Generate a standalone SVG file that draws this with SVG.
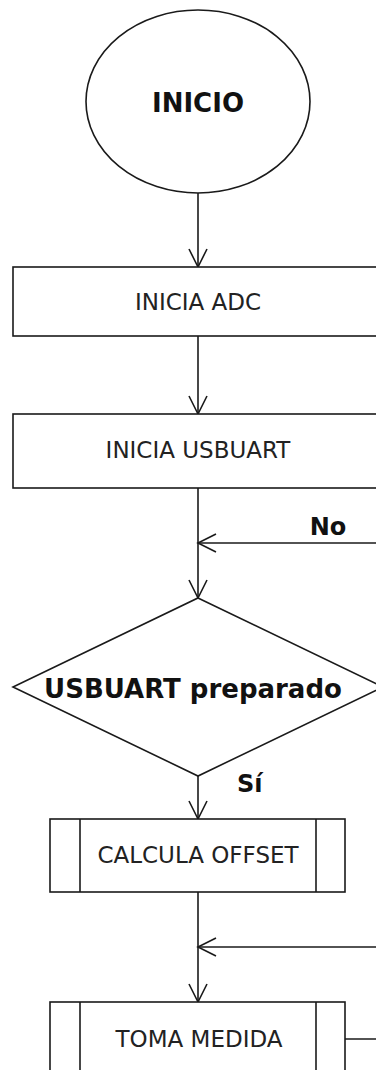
<svg xmlns="http://www.w3.org/2000/svg" width="376" height="1070" viewBox="0 0 376 1070">
<style>
.s{fill:#fff;stroke:#1a1a1a;stroke-width:1.6}
.l{fill:none;stroke:#1a1a1a;stroke-width:1.6}
.t{font-family:"DejaVu Sans",sans-serif;font-size:23px;fill:#222;text-anchor:middle}
.b{font-family:"DejaVu Sans",sans-serif;font-weight:bold;fill:#111}
</style>
<defs>
<marker id="arr" markerUnits="userSpaceOnUse" markerWidth="24" markerHeight="24" viewBox="-20 -12 24 24" refX="0" refY="0" orient="auto" overflow="visible">
<path d="M-18,-9 L0,0 L-18,9" fill="none" stroke="#1a1a1a" stroke-width="1.6"/>
</marker>
</defs>
<rect width="376" height="1070" fill="#fff"/>
<g id="connectors">
<line class="l" x1="198" y1="193" x2="198" y2="267" marker-end="url(#arr)"/>
<line class="l" x1="198" y1="336" x2="198" y2="414" marker-end="url(#arr)"/>
<line class="l" x1="198" y1="488" x2="198" y2="598" marker-end="url(#arr)"/>
<line class="l" x1="380" y1="543" x2="198" y2="543" marker-end="url(#arr)"/>
<text class="b" x="328" y="535" font-size="24" text-anchor="middle">No</text>
<line class="l" x1="198" y1="776" x2="198" y2="819" marker-end="url(#arr)"/>
<text class="b" x="237" y="792" font-size="24">Sí</text>
<line class="l" x1="198" y1="892" x2="198" y2="1002" marker-end="url(#arr)"/>
<line class="l" x1="380" y1="947" x2="198" y2="947" marker-end="url(#arr)"/>
<line class="l" x1="345" y1="1039" x2="380" y2="1039"/>
</g>
<g id="inicio">
<ellipse class="s" cx="198" cy="101.5" rx="112" ry="91.5"/>
<text class="b" x="198" y="112" font-size="26" text-anchor="middle">INICIO</text>
</g>
<g id="inicia-adc">
<rect class="s" x="13" y="267" width="372" height="69"/>
<text class="t" x="198" y="310">INICIA ADC</text>
</g>
<g id="inicia-usbuart">
<rect class="s" x="13" y="414" width="372" height="74"/>
<text class="t" x="198" y="458">INICIA USBUART</text>
</g>
<g id="usbuart-preparado">
<polygon class="s" points="198,598 383,687 198,776 13,687"/>
<text class="b" x="193" y="698" font-size="26" text-anchor="middle">USBUART preparado</text>
</g>
<g id="calcula-offset">
<rect class="s" x="50" y="819" width="295" height="73"/>
<line class="l" x1="80" y1="819" x2="80" y2="892"/>
<line class="l" x1="316" y1="819" x2="316" y2="892"/>
<text class="t" x="198" y="863">CALCULA OFFSET</text>
</g>
<g id="toma-medida">
<rect class="s" x="50" y="1002" width="295" height="80"/>
<line class="l" x1="80" y1="1002" x2="80" y2="1082"/>
<line class="l" x1="316" y1="1002" x2="316" y2="1082"/>
<text class="t" x="199" y="1047">TOMA MEDIDA</text>
</g>
</svg>
